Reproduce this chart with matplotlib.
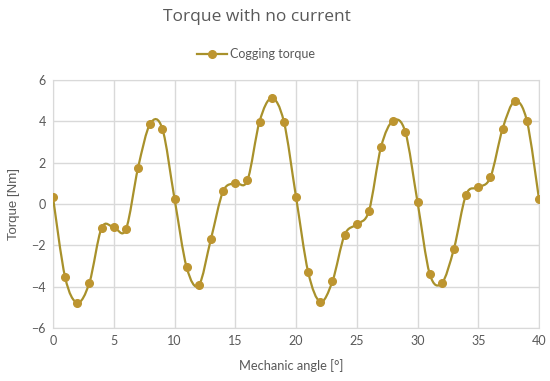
import numpy as np
import matplotlib
matplotlib.use("Agg")
import matplotlib.pyplot as plt
from matplotlib.path import Path
from matplotlib.patches import PathPatch
from matplotlib.lines import Line2D

angles = list(range(0, 41))
torque = [0.32, -3.55, -4.77, -3.8, -1.16, -1.13, -1.23, 1.75, 3.88, 3.64,
          0.26, -3.06, -3.93, -1.69, 0.61, 1.01, 1.14, 3.99, 5.12, 3.99,
          0.35, -3.29, -4.73, -3.74, -1.5, -0.98, -0.34, 2.76, 4.03, 3.48,
          0.1, -3.37, -3.83, -2.16, 0.45, 0.8, 1.29, 3.63, 4.97, 4.03, 0.24]
xticks = [0, 5, 10, 15, 20, 25, 30, 35, 40]
yticks = [-6, -4, -2, 0, 2, 4, 6]

line_color = "#A8912B"
marker_color = "#BD9530"
grid_color = "#D9D9D9"
text_color = "#595959"

fig = plt.figure(figsize=(5.5, 3.81), dpi=100)
ax = fig.add_axes([53/550, 1-328/381, (539-53)/550, (328-80)/381])

x = np.array(angles, dtype=float)
y = np.array(torque, dtype=float)
# smoothed curve (Catmull-Rom style Bezier)
verts = [(x[0], y[0])]
codes = [Path.MOVETO]
n = len(x)
for i in range(n - 1):
    p0 = np.array([x[max(i-1, 0)], y[max(i-1, 0)]])
    p1 = np.array([x[i], y[i]])
    p2 = np.array([x[i+1], y[i+1]])
    p3 = np.array([x[min(i+2, n-1)], y[min(i+2, n-1)]])
    c1 = p1 + (p2 - p0) / 6
    c2 = p2 - (p3 - p1) / 6
    verts += [tuple(c1), tuple(c2), tuple(p2)]
    codes += [Path.CURVE4] * 3
patch = PathPatch(Path(verts, codes), facecolor="none", edgecolor=line_color, lw=1.6, zorder=3)
ax.add_patch(patch)
ax.plot(x, y, linestyle="none", marker="o", markersize=5.5, color=marker_color, zorder=4)

ax.set_xlim(0, 40)
ax.set_ylim(-6, 6)
ax.set_xticks(xticks)
ax.set_yticks(yticks)
ax.grid(True, color=grid_color, lw=1)
ax.set_axisbelow(True)
for s in ax.spines.values():
    s.set_color(grid_color)
ax.tick_params(length=0, labelsize=9, colors=text_color, pad=5)
for lab in ax.get_xticklabels() + ax.get_yticklabels():
    lab.set_family("Lato")

ax.set_xlabel("Mechanic angle [°]", fontsize=9.3, color=text_color, family="Lato")
ax.xaxis.set_label_coords((291.5-53)/486, -(366-328)/248)
ax.xaxis.label.set_va("center")
ax.set_ylabel("Torque [Nm]", fontsize=9.5, color=text_color, family="Liberation Sans", labelpad=8)

fig.text(257/550, 1-17/381, "Torque with no current", ha="center", va="center",
         fontsize=12.5, color=text_color, family="Open Sans")

handle = Line2D([], [], color=line_color, lw=1.6, marker="o", markersize=5.5,
                markerfacecolor=marker_color, markeredgecolor=marker_color)
leg = fig.legend([handle], ["Cogging torque"], loc="center",
                 bbox_to_anchor=(256/550, 1-54/381), frameon=False,
                 prop={"family": "Lato", "size": 9}, handlelength=2.4,
                 handletextpad=0.3)
for t in leg.get_texts():
    t.set_color(text_color)

fig.savefig("out.png", dpi=100)
